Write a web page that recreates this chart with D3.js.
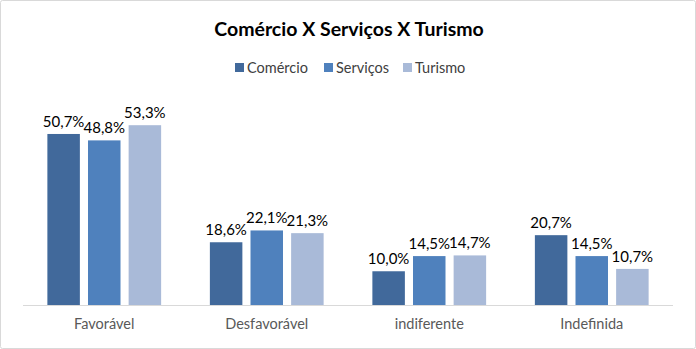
<!DOCTYPE html>
<html>
<head>
<meta charset="utf-8">
<script src="https://cdn.jsdelivr.net/npm/d3@7"></script>
<style>
  html, body { margin: 0; padding: 0; background: #fff; }
  svg { display: block; font-family: Lato, "Open Sans", "DejaVu Sans", sans-serif; }
</style>
</head>
<body>
<svg id="chart" width="696" height="349"></svg>
<script>
const categories = ["Favorável", "Desfavorável", "indiferente", "Indefinida"];
const seriesNames = ["Comércio", "Serviços", "Turismo"];
const comercio = [50.7, 18.6, 10.0, 20.7];
const servicos = [48.8, 22.1, 14.5, 14.5];
const turismo = [53.3, 21.3, 14.7, 10.7];
const colors = ["#41699B", "#4F81BD", "#A9BAD8"];

const series = [comercio, servicos, turismo];
const svg = d3.select("#chart");
const W = 696, H = 349;

// outer frame
svg.append("rect").attr("x", 0.5).attr("y", 0.5).attr("width", W - 1).attr("height", H - 1)
  .attr("fill", "#fff").attr("stroke", "#d9d9d9").attr("rx", 2);

const plot = { left: 23, right: 673, top: 80, bottom: 305 };

const x0 = d3.scaleBand().domain(categories).range([plot.left, plot.right]).paddingInner(0.3).paddingOuter(0.15);
const x1 = d3.scaleBand().domain(seriesNames).range([0, x0.bandwidth()]).paddingInner(0.2);
const y = d3.scaleLinear().domain([0, 66.7]).range([plot.bottom, plot.top]);

// title
svg.append("text").attr("x", W / 2 + 1).attr("y", 36).attr("text-anchor", "middle")
  .attr("font-size", 19.5).attr("font-weight", "bold").attr("fill", "#000")
  .text("Comércio X Serviços X Turismo");

// legend
const legendX = [235, 324, 403];
const legend = svg.append("g");
seriesNames.forEach((name, i) => {
  const g = legend.append("g").attr("transform", `translate(${legendX[i]},63)`);
  g.append("rect").attr("width", 9).attr("height", 9).attr("fill", colors[i]);
  g.append("text").attr("x", 12).attr("y", 10).attr("font-size", 14.5).attr("fill", "#404040").text(name);
});

// bars
const groups = svg.append("g").selectAll("g").data(categories).join("g")
  .attr("transform", d => `translate(${x0(d)},0)`);

seriesNames.forEach((name, si) => {
  groups.append("rect")
    .attr("x", x1(name))
    .attr("width", x1.bandwidth())
    .attr("y", (d, ci) => y(series[si][ci]))
    .attr("height", (d, ci) => y(0) - y(series[si][ci]))
    .attr("fill", colors[si]);
  groups.append("text")
    .attr("x", x1(name) + x1.bandwidth() / 2)
    .attr("y", (d, ci) => y(series[si][ci]) - 7)
    .attr("text-anchor", "middle")
    .attr("font-size", 15)
    .attr("fill", "#000")
    .text((d, ci) => series[si][ci].toFixed(1).replace(".", ",") + "%");
});

// category axis
const axis = svg.append("g").attr("transform", `translate(0,${plot.bottom})`)
  .call(d3.axisBottom(x0).tickSize(0).tickPadding(14));
axis.select(".domain").attr("stroke", "#d9d9d9").attr("d", `M${plot.left},0.5H${plot.right}`);
axis.selectAll("text").attr("font-size", 14.5).attr("fill", "#595959")
  .attr("font-family", 'Lato, "Open Sans", "DejaVu Sans", sans-serif');
</script>
</body>
</html>
